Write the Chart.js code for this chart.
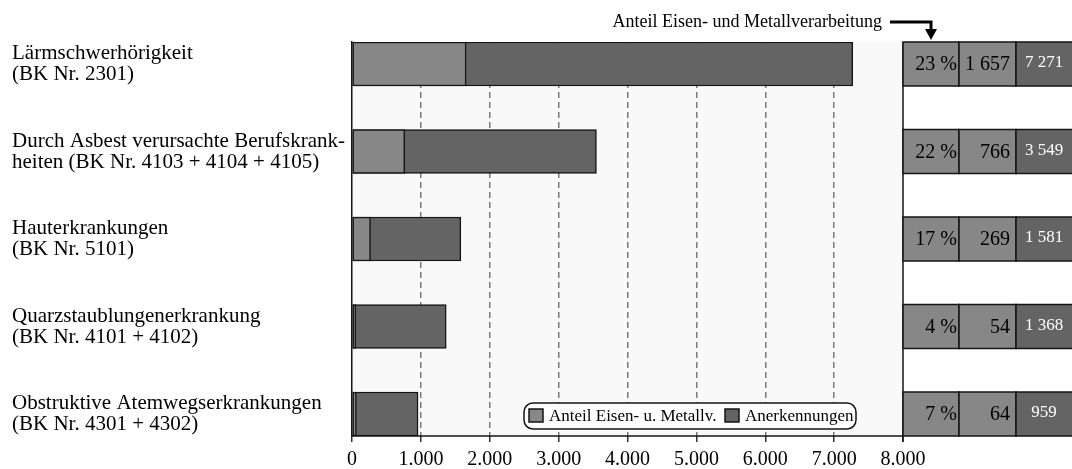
<!DOCTYPE html>
<html lang="de">
<head>
<meta charset="utf-8">
<script src="https://cdn.jsdelivr.net/npm/chart.js@4/dist/chart.umd.min.js"></script>
<style>
  html, body { margin: 0; padding: 0; background: #fff; }
  #wrap { width: 1072px; height: 469px; }
</style>
</head>
<body>
<div id="wrap"><canvas id="bkChart" width="1072" height="469"></canvas></div>
<script>
// Berufskrankheiten: Anerkennungen gesamt und Anteil Eisen- u. Metallverarbeitung
const categories = [
    ['Lärmschwerhörigkeit', '(BK Nr. 2301)'],
    ['Durch Asbest verursachte Berufskrank-', 'heiten (BK Nr. 4103 + 4104 + 4105)'],
    ['Hauterkrankungen', '(BK Nr. 5101)'],
    ['Quarzstaublungenerkrankung', '(BK Nr. 4101 + 4102)'],
    ['Obstruktive Atemwegserkrankungen', '(BK Nr. 4301 + 4302)']
];
const metalCases = [1657, 766, 269, 54, 64];
const totalCases = [7271, 3549, 1581, 1368, 959];
const metalShare = [23, 22, 17, 4, 7];
const xTickLabels = ['0', '1.000', '2.000', '3.000', '4.000', '5.000', '6.000', '7.000', '8.000'];
const seriesLabels = ['Anteil Eisen- u. Metallv.', 'Anerkennungen'];
const annotationText = 'Anteil Eisen- und Metallverarbeitung';

const LIGHT = '#878787';
const DARK = '#646464';
const EDGE = '#151515';
const SERIF = '"Liberation Serif", "Times New Roman", serif';
const BAR_PX = 44;

// 1 657 style thousands
function fmtSpace(n) {
    return String(n).replace(/\B(?=(\d{3})+(?!\d))/g, ' ');
}

function roundRect(ctx, x, y, w, h, r) {
    ctx.beginPath();
    ctx.moveTo(x + r, y);
    ctx.lineTo(x + w - r, y);
    ctx.arcTo(x + w, y, x + w, y + r, r);
    ctx.lineTo(x + w, y + h - r);
    ctx.arcTo(x + w, y + h, x + w - r, y + h, r);
    ctx.lineTo(x + r, y + h);
    ctx.arcTo(x, y + h, x, y + h - r, r);
    ctx.lineTo(x, y + r);
    ctx.arcTo(x, y, x + r, y, r);
    ctx.closePath();
}

const extras = {
    id: 'extras',
    beforeDraw(chart) {
        const { ctx, chartArea: a } = chart;
        ctx.save();
        ctx.fillStyle = '#f9f9f9';
        ctx.fillRect(a.left, a.top, a.right - a.left, a.bottom - a.top);
        ctx.restore();
    },
    afterDraw(chart) {
        const { ctx, chartArea: a } = chart;
        const yScale = chart.scales.y;
        ctx.save();

        // bottom axis line + right frame line
        ctx.strokeStyle = EDGE;
        ctx.lineWidth = 1.5;
        ctx.beginPath();
        ctx.moveTo(a.left, a.bottom);
        ctx.lineTo(a.right, a.bottom);
        ctx.moveTo(a.right, a.top);
        ctx.lineTo(a.right, a.bottom + 6);
        ctx.stroke();

        // table on the right: share %, metal cases, total
        const cols = [a.right, 959, 1016, 1074];
        categories.forEach((c, i) => {
            const yc = yScale.getPixelForValue(i);
            const top = yc - BAR_PX / 2;
            const fills = [LIGHT, LIGHT, DARK];
            for (let k = 0; k < 3; k++) {
                ctx.fillStyle = fills[k];
                ctx.fillRect(cols[k], top, cols[k + 1] - cols[k], BAR_PX);
                ctx.strokeStyle = EDGE;
                ctx.lineWidth = 1.5;
                ctx.strokeRect(cols[k], top, cols[k + 1] - cols[k], BAR_PX);
            }
            ctx.textBaseline = 'middle';
            ctx.fillStyle = '#000';
            ctx.font = '20px ' + SERIF;
            ctx.textAlign = 'right';
            ctx.fillText(metalShare[i] + ' %', 957, yc + 1);
            ctx.fillText(fmtSpace(metalCases[i]), 1010, yc + 1);
            ctx.fillStyle = '#fff';
            ctx.font = '17px ' + SERIF;
            ctx.textAlign = 'center';
            ctx.fillText(fmtSpace(totalCases[i]), 1044, yc - 1);
        });

        // legend box inside plot
        const lx = 524, ly = 403, lw = 332, lh = 26;
        ctx.fillStyle = '#fff';
        roundRect(ctx, lx, ly, lw, lh, 9);
        ctx.fill();
        ctx.strokeStyle = EDGE;
        ctx.lineWidth = 1.5;
        ctx.stroke();
        const items = chart.data.datasets.map(d => ({ label: d.label, color: d.backgroundColor }));
        const itemX = [529, 725];
        ctx.font = '17px ' + SERIF;
        ctx.textAlign = 'left';
        ctx.textBaseline = 'middle';
        items.forEach((it, k) => {
            ctx.fillStyle = it.color;
            ctx.fillRect(itemX[k], ly + 6, 14, 13);
            ctx.strokeRect(itemX[k], ly + 6, 14, 13);
            ctx.fillStyle = '#000';
            ctx.fillText(it.label, itemX[k] + 20, ly + lh / 2 + 1);
        });

        // annotation with elbow arrow
        ctx.font = '18px ' + SERIF;
        ctx.textAlign = 'right';
        ctx.fillStyle = '#000';
        ctx.fillText(annotationText, 882, 22);
        ctx.strokeStyle = '#000';
        ctx.lineWidth = 3;
        ctx.beginPath();
        ctx.moveTo(890, 22);
        ctx.lineTo(931, 22);
        ctx.lineTo(931, 31);
        ctx.stroke();
        ctx.fillStyle = '#000';
        ctx.beginPath();
        ctx.moveTo(925, 29);
        ctx.lineTo(937, 29);
        ctx.lineTo(931, 40);
        ctx.closePath();
        ctx.fill();

        ctx.restore();
    }
};

const ctx = document.getElementById('bkChart').getContext('2d');
new Chart(ctx, {
    type: 'bar',
    data: {
        datasets: [
            {
                label: seriesLabels[0],
                data: metalCases.map((v, i) => ({ x: v, y: i })),
                backgroundColor: LIGHT,
                borderColor: EDGE,
                borderWidth: 1.5,
                borderSkipped: false,
                barThickness: BAR_PX,
                grouped: false
            },
            {
                label: seriesLabels[1],
                data: totalCases.map((v, i) => ({ x: v, y: i })),
                backgroundColor: DARK,
                borderColor: EDGE,
                borderWidth: 1.5,
                borderSkipped: false,
                barThickness: BAR_PX,
                grouped: false
            }
        ]
    },
    options: {
        indexAxis: 'y',
        responsive: false,
        animation: false,
        events: [],
        layout: { padding: { top: 42, right: 169, left: 12, bottom: 0 } },
        plugins: {
            legend: { display: false },
            tooltip: { enabled: false }
        },
        scales: {
            x: {
                type: 'linear',
                position: 'bottom',
                min: 0,
                max: 8000,
                afterFit: (s) => { s.height = 33; },
                ticks: {
                    stepSize: 1000,
                    padding: 6,
                    color: '#000',
                    font: { family: SERIF, size: 20 },
                    maxRotation: 0,
                    autoSkip: false,
                    callback: (v, i) => xTickLabels[i]
                },
                grid: {
                    color: (c) => (c.tick && (c.tick.value === 0 || c.tick.value === 8000)) ? 'rgba(0,0,0,0)' : '#7a7a7a',
                    lineWidth: 1.5,
                    tickLength: 6,
                    tickColor: '#333',
                    tickWidth: 1.5
                },
                border: { display: false, dash: [6, 4] }
            },
            y: {
                type: 'linear',
                reverse: true,
                offset: false,
                min: -0.2514,
                max: 4.2514,
                afterFit: (s) => { s.width = 340; },
                ticks: {
                    stepSize: 1,
                    includeBounds: false,
                    autoSkip: false,
                    crossAlign: 'far',
                    color: '#000',
                    font: { family: SERIF, size: 21, lineHeight: '21px' },
                    callback: (v) => categories[v]
                },
                grid: { display: false },
                border: { display: true, color: EDGE, width: 1.5 }
            }
        }
    },
    plugins: [extras]
});
</script>
</body>
</html>
